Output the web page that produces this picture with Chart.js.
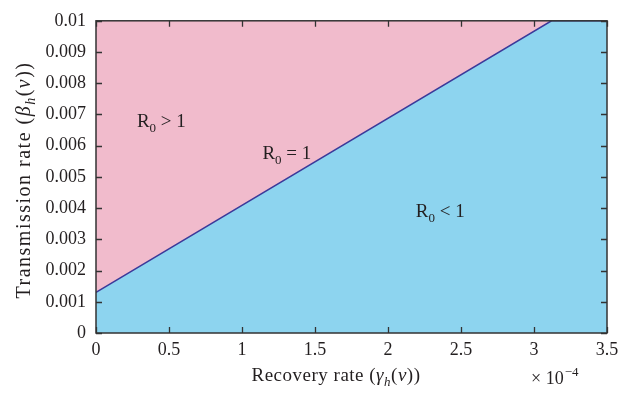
<!DOCTYPE html>
<html>
<head>
<meta charset="utf-8">
<script src="https://cdn.jsdelivr.net/npm/chart.js@4.4.1/dist/chart.umd.min.js"></script>
<style>
  html, body { margin: 0; padding: 0; background: #fff; }
  #wrap { width: 634px; height: 393px; position: relative; }
</style>
</head>
<body>
<div id="wrap"><canvas id="chart" width="634" height="393"></canvas></div>
<script>
// recovery rate in units of 1e-4, threshold R0 = 1 line
const boundaryX = [0, 3.12, 3.5]
const boundaryY = [0.0013, 0.01, 0.01]
// top of the plot (pink region R0 > 1)
const topX = [0, 3.5]
const topY = [0.01, 0.01]

const xTicks = [0, 0.5, 1, 1.5, 2, 2.5, 3, 3.5]
const yTicks = [0, 0.001, 0.002, 0.003, 0.004, 0.005, 0.006, 0.007, 0.008, 0.009, 0.01]

// region labels: [text, x, y]
const regionLabels = [
  ['>', 0.28, 0.0068],
  ['=', 1.14, 0.00575],
  ['<', 2.19, 0.0039]
]

const SERIF = '"Liberation Serif", "DejaVu Serif", serif'
const TXT = '#231f20'

const toPts = (xs, ys) => xs.map((x, i) => ({ x: x, y: ys[i] }))

// inward tick marks on all four sides, frame and text bits
const decor = {
  id: 'decor',
  afterDatasetsDraw(chart) {
    const ctx = chart.ctx
    const a = chart.chartArea
    const xs = chart.scales.x, ys = chart.scales.y
    ctx.save()
    ctx.strokeStyle = '#333'
    ctx.lineWidth = 1.3
    ctx.beginPath()
    for (const t of xTicks) {
      const px = Math.round(xs.getPixelForValue(t)) + 0.5
      ctx.moveTo(px, a.bottom); ctx.lineTo(px, a.bottom - 6)
      ctx.moveTo(px, a.top); ctx.lineTo(px, a.top + 6)
    }
    for (const t of yTicks) {
      const py = Math.round(ys.getPixelForValue(t)) + 0.5
      ctx.moveTo(a.left, py); ctx.lineTo(a.left + 6, py)
      ctx.moveTo(a.right, py); ctx.lineTo(a.right - 6, py)
    }
    ctx.stroke()
    ctx.lineWidth = 1.5
    ctx.strokeRect(a.left, a.top, a.right - a.left, a.bottom - a.top)

    // region labels R0 ? 1
    ctx.fillStyle = TXT
    ctx.textBaseline = 'alphabetic'
    for (const [op, x, y] of regionLabels) {
      let px = xs.getPixelForValue(x)
      const py = ys.getPixelForValue(y) + 6
      ctx.textAlign = 'left'
      ctx.font = '19px ' + SERIF
      ctx.fillText('R', px, py)
      px += ctx.measureText('R').width
      ctx.font = '13px ' + SERIF
      ctx.fillText('0', px, py + 5)
      px += ctx.measureText('0').width
      ctx.font = '19px ' + SERIF
      ctx.fillText(' ' + op + ' 1', px, py)
    }

    // x axis title: Recovery rate (γh(ν))
    ctx.letterSpacing = '0.5px'
    const parts = [
      ['Recovery rate (', '19px ' + SERIF, 0],
      ['\u03b3', 'italic 19px ' + SERIF, 0],
      ['h', 'italic 13px ' + SERIF, 5],
      ['(', '19px ' + SERIF, 0],
      ['\u03bd', 'italic 19px ' + SERIF, 0],
      ['))', '19px ' + SERIF, 0]
    ]
    drawParts(ctx, parts, 336, 381)
    ctx.letterSpacing = '0px'

    // exponent label × 10^-4
    ctx.textAlign = 'left'
    ctx.font = '18px ' + SERIF
    ctx.fillText('\u00d7 10', 531, 384)
    const w = ctx.measureText('\u00d7 10').width
    ctx.font = '13px ' + SERIF
    ctx.fillText('\u22124', 531 + w + 1, 376)

    // y axis title: Transmission rate (βh(ν))
    ctx.save()
    ctx.translate(30, 180)
    ctx.rotate(-Math.PI / 2)
    ctx.letterSpacing = '1.5px'
    const yparts = [
      ['Transmission rate (', '20px ' + SERIF, 0],
      ['\u03b2', 'italic 20px ' + SERIF, 0],
      ['h', 'italic 14px ' + SERIF, 5],
      ['(', '20px ' + SERIF, 0],
      ['\u03bd', 'italic 20px ' + SERIF, 0],
      ['))', '20px ' + SERIF, 0]
    ]
    drawParts(ctx, yparts, 0, 0)
    ctx.restore()
    ctx.restore()
  }
}

function drawParts(ctx, parts, cx, y) {
  let total = 0
  for (const [t, f] of parts) { ctx.font = f; total += ctx.measureText(t).width }
  let x = cx - total / 2
  ctx.textAlign = 'left'
  ctx.fillStyle = TXT
  for (const [t, f, dy] of parts) {
    ctx.font = f
    ctx.fillText(t, x, y + dy)
    x += ctx.measureText(t).width
  }
}

new Chart(document.getElementById('chart'), {
  type: 'scatter',
  plugins: [decor],
  data: {
    datasets: [
      {
        data: toPts(boundaryX, boundaryY),
        showLine: true,
        borderColor: '#3b3a9a',
        borderWidth: 1.5,
        backgroundColor: '#8dd4ef',
        fill: 'origin',
        pointRadius: 0,
        tension: 0
      },
      {
        data: toPts(topX, topY),
        showLine: true,
        borderWidth: 0,
        borderColor: 'rgba(0,0,0,0)',
        backgroundColor: '#f1bbcc',
        fill: 'origin',
        pointRadius: 0
      }
    ]
  },
  options: {
    responsive: false,
    animation: false,
    layout: { padding: { top: 15, right: 27, left: 0, bottom: 0 } },
    plugins: { legend: { display: false }, tooltip: { enabled: false } },
    scales: {
      x: {
        type: 'linear', min: 0, max: 3.5,
        afterBuildTicks: s => { s.ticks = xTicks.map(v => ({ value: v })) },
        grid: { display: false, drawTicks: false },
        border: { display: false },
        ticks: {
          padding: 6,
          color: TXT,
          font: { family: SERIF, size: 18 },
          maxRotation: 0,
          callback: v => String(v)
        },
        afterFit: s => { s.height = 60 }
      },
      y: {
        type: 'linear', min: 0, max: 0.01,
        afterBuildTicks: s => { s.ticks = yTicks.map(v => ({ value: v })) },
        grid: { display: false, drawTicks: false },
        border: { display: false },
        ticks: {
          padding: 10,
          color: TXT,
          font: { family: SERIF, size: 18 },
          callback: v => String(parseFloat(Number(v).toFixed(3)))
        },
        afterFit: s => { s.width = 96 }
      }
    }
  }
})
</script>
</body>
</html>
